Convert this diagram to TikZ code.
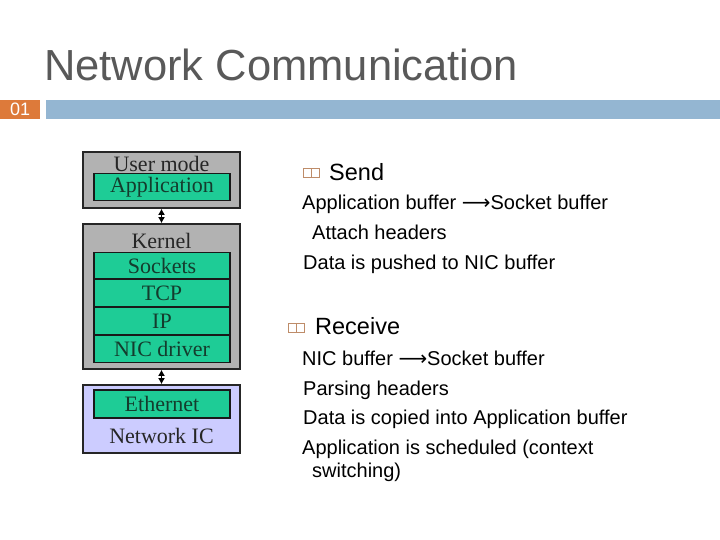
\documentclass[tikz,border=0pt]{standalone}
\usepackage{fontspec}
\setmainfont{Liberation Sans}
\newfontfamily\stackfont{Liberation Serif}
\newfontfamily\arrowfont{DejaVu Sans}
\usepackage{tikz}
\usetikzlibrary{arrows.meta,calc}
\definecolor{titlegray}{RGB}{89,89,89}
\definecolor{tabOrange}{RGB}{221,122,58}
\definecolor{barBlue}{RGB}{148,182,210}
\definecolor{boxGray}{RGB}{178,178,178}
\definecolor{layerGreen}{RGB}{30,204,150}
\definecolor{icLilac}{RGB}{204,204,255}
\definecolor{layerText}{RGB}{20,60,45}
\definecolor{markBrown}{RGB}{190,140,105}

\begin{document}
\begin{tikzpicture}[x=1pt,y=-1pt,
    outerbox/.style={rectangle, draw=black!85, line width=1.6pt, minimum width=157pt, inner sep=0pt},
    layerbox/.style={rectangle, draw=black!90, line width=1.6pt, fill=layerGreen, minimum width=136pt, inner sep=0pt,
        font=\stackfont\fontsize{22}{22}\selectfont, text=layerText},
    boxtitle/.style={font=\stackfont\fontsize{22}{22}\selectfont, text=black!85, inner sep=0pt},
    headline/.style={anchor=base west, inner sep=0pt, font=\fontsize{23.5}{23.5}\selectfont},
    itemline/.style={anchor=base west, inner sep=0pt, font=\fontsize{20}{20}\selectfont},
    markbox/.style={rectangle, draw=markBrown, line width=0.6pt, minimum width=16pt, minimum height=9pt, inner sep=0pt}
    ]
    \useasboundingbox (0,0) rectangle (720,540);
    \tikzset{stackarrow/.style={{Latex[length=6pt,width=7pt]}-{Latex[length=6pt,width=7pt]}, line width=1.3pt}}
    %
    %title and bar
    %
    \node[anchor=base west, inner sep=0pt, text=titlegray, font=\fontsize{43.5}{43.5}\selectfont] (title) at (44,81) {Network Communication};
    \node[rectangle, fill=tabOrange, minimum width=40pt, minimum height=19pt, inner sep=0pt, anchor=north west,
        text=white, font=\fontsize{18}{18}\selectfont] (tab) at (0,100) {01};
    \node[rectangle, fill=barBlue, minimum width=674pt, minimum height=19pt, inner sep=0pt, anchor=north west] (bar) at (46,100) {};
    %
    %stack
    %
    \node[outerbox, fill=boxGray, minimum height=56pt] (usermode) at (161.5,180) {};
    \node[boxtitle] (usertitle) at (161.5,164) {User mode};
    \node[layerbox, minimum height=27pt] (application) at (162,187) {Application};
    %
    \node[outerbox, fill=boxGray, minimum height=145pt] (kernel) at (161.5,296.5) {};
    \node[boxtitle] (kerneltitle) at (161.5,241) {Kernel};
    \node[layerbox, minimum height=27pt] (sockets) at (162,266) {Sockets};
    \node[layerbox, minimum height=28pt] (tcp) at (162,293) {TCP};
    \node[layerbox, minimum height=28pt] (ip) at (162,321) {IP};
    \node[layerbox, minimum height=27pt] (nicdriver) at (162,349) {NIC driver};
    %
    \node[outerbox, fill=icLilac, minimum height=68pt] (networkic) at (161.5,419) {};
    \node[layerbox, minimum height=28pt] (ethernet) at (162,404) {Ethernet};
    \node[boxtitle] (ictitle) at (161.5,436) {Network IC};
    %
    %arrows
    %
    \draw[stackarrow] (usermode.south) -- (kernel.north);
    \draw[stackarrow] (kernel.south) -- (networkic.north);
    %
    %send
    %
    \node[markbox] (sendmark) at (311.5,173) {};
    \draw[markBrown, line width=0.6pt] (sendmark.north) -- (sendmark.south);
    \node[headline] (send) at (329,181) {Send};
    \node[itemline] (send1) at (302,210) {Application buffer {\arrowfont⟶}Socket buffer};
    \node[itemline] (send2) at (312,240) {Attach headers};
    \node[itemline] (send3) at (303,269) {Data is pushed to NIC buffer};
    %
    %receive
    %
    \node[markbox] (recvmark) at (296.5,328) {};
    \draw[markBrown, line width=0.6pt] (recvmark.north) -- (recvmark.south);
    \node[headline] (receive) at (315,334) {Receive};
    \node[itemline] (recv1) at (302,365) {NIC buffer {\arrowfont⟶}Socket buffer};
    \node[itemline] (recv2) at (303,395) {Parsing headers};
    \node[itemline] (recv3) at (303,424) {Data is copied into Application buffer};
    \node[itemline] (recv4) at (302,454) {Application is scheduled (context};
    \node[itemline] (recv5) at (312,477) {switching)};
\end{tikzpicture}
\end{document}
